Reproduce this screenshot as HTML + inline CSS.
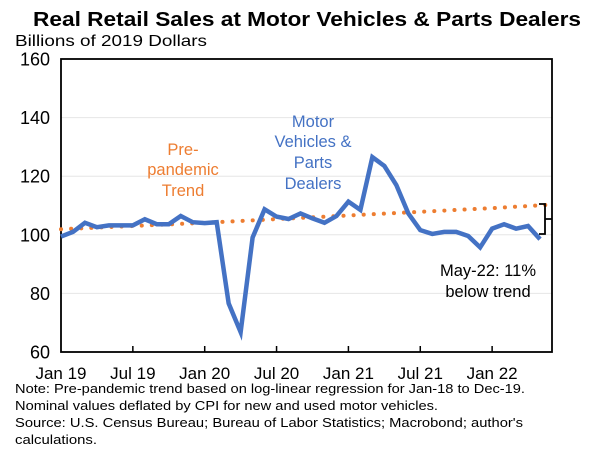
<!DOCTYPE html>
<html><head><meta charset="utf-8"><style>
html,body{margin:0;padding:0;background:#fff;}
svg{display:block;font-family:"Liberation Sans",sans-serif;}
</style></head><body>
<svg id="chart" width="600" height="451" viewBox="0 0 600 451">
<text x="307" y="26" text-anchor="middle" font-size="20" font-weight="bold" textLength="548" lengthAdjust="spacingAndGlyphs">Real Retail Sales at Motor Vehicles &amp; Parts Dealers</text>
<text x="15" y="46" font-size="16" textLength="192" lengthAdjust="spacingAndGlyphs">Billions of 2019 Dollars</text>
<g id="grid"></g>
<g id="yticks"></g>
<g id="xticks"></g>
<g id="series"></g>
<text font-size="16.5" fill="#ED7D31" text-anchor="middle"><tspan x="183" y="155">Pre-</tspan><tspan x="183" y="175">pandemic</tspan><tspan x="183" y="196">Trend</tspan></text>
<text font-size="16.5" fill="#4472C4" text-anchor="middle"><tspan x="313" y="127">Motor</tspan><tspan x="313" y="147">Vehicles &amp;</tspan><tspan x="313" y="168">Parts</tspan><tspan x="313" y="189">Dealers</tspan></text>
<path d="M539,204 H545 V234 H539 M545,219 H552" fill="none" stroke="#000" stroke-width="1.8"/>
<text font-size="16.5" text-anchor="middle"><tspan x="488" y="276">May-22:  11%</tspan><tspan x="488" y="297">below trend</tspan></text>
<g font-size="13">
<text x="15" y="393" textLength="510" lengthAdjust="spacingAndGlyphs">Note: Pre-pandemic trend based on log-linear regression for Jan-18 to Dec-19.</text>
<text x="15" y="410" textLength="423" lengthAdjust="spacingAndGlyphs">Nominal values deflated by CPI for new and used motor vehicles.</text>
<text x="15" y="427" textLength="508" lengthAdjust="spacingAndGlyphs">Source: U.S. Census Bureau; Bureau of Labor Statistics; Macrobond; author's</text>
<text x="15" y="444" textLength="82" lengthAdjust="spacingAndGlyphs">calculations.</text>
</g>
</svg>
<script>
const yTicks = [60, 80, 100, 120, 140, 160];
const xTickLabels = ["Jan 19", "Jul 19", "Jan 20", "Jul 20", "Jan 21", "Jul 21", "Jan 22"];
const xTickMonths = [0, 6, 12, 18, 24, 30, 36];
const salesValues = [99.4, 101.0, 104.1, 102.6, 103.2, 103.2, 103.2, 105.3, 103.6, 103.6, 106.4, 104.3, 104.0, 104.3, 76.6, 66.8, 99.1, 108.7, 106.2, 105.4, 107.3, 105.6, 104.1, 106.4, 111.3, 108.5, 126.5, 123.5, 117.0, 107.3, 101.6, 100.3, 101.0, 101.0, 99.6, 95.7, 102.1, 103.6, 102.1, 103.0, 98.5];
const trendMonths = [0, 12, 24, 36, 41];
const trendValues = [101.9, 104.1, 106.6, 109.1, 110.3];

const NS = "http://www.w3.org/2000/svg";
const L = 61, R = 552, T = 59, B = 352;
const xS = m => L + m * (R - L) / 41;
const yS = v => B - (v - 60) * (B - T) / 100;
function mk(tag, attrs, parent) {
  const e = document.createElementNS(NS, tag);
  for (const k in attrs) e.setAttribute(k, attrs[k]);
  parent.appendChild(e);
  return e;
}
const grid = document.getElementById("grid");
const yt = document.getElementById("yticks");
yTicks.forEach(v => {
  if (v > 60 && v < 160) {
    const g = mk("line", {x1: L, x2: R, y1: yS(v), y2: yS(v), stroke: "#e6e6e6", "stroke-width": 1}, grid);
    
    
  }
  const t = mk("text", {x: 50, y: yS(v) + 6.5, "font-size": 18, "text-anchor": "end"}, yt);
  t.textContent = v;
  
  
});
const frame = mk("rect", {x: L, y: T, width: R - L, height: B - T, fill: "none", stroke: "#000", "stroke-width": 1.8}, grid);


const xt = document.getElementById("xticks");
xTickMonths.forEach((m, i) => {
  if (m > 0) {
    const tk = mk("line", {x1: xS(m), x2: xS(m), y1: B, y2: B - 6, stroke: "#000", "stroke-width": 1.5}, xt);
    
    
  }
  const t = mk("text", {x: xS(m), y: 379, "font-size": 17, "text-anchor": "middle"}, xt);
  t.textContent = xTickLabels[i];
  
  
});
const s = document.getElementById("series");
const trend = mk("polyline", {points: trendMonths.map((m, i) => xS(m) + "," + yS(trendValues[i])).join(" "), fill: "none", stroke: "#ED7D31", "stroke-width": 4, "stroke-linecap": "round", "stroke-dasharray": "0.1 10"}, s);


const line = mk("polyline", {points: salesValues.map((v, i) => xS(i) + "," + yS(v)).join(" "), fill: "none", stroke: "#4472C4", "stroke-width": 4.5, "stroke-linejoin": "miter"}, s);


</script>
</body></html>
